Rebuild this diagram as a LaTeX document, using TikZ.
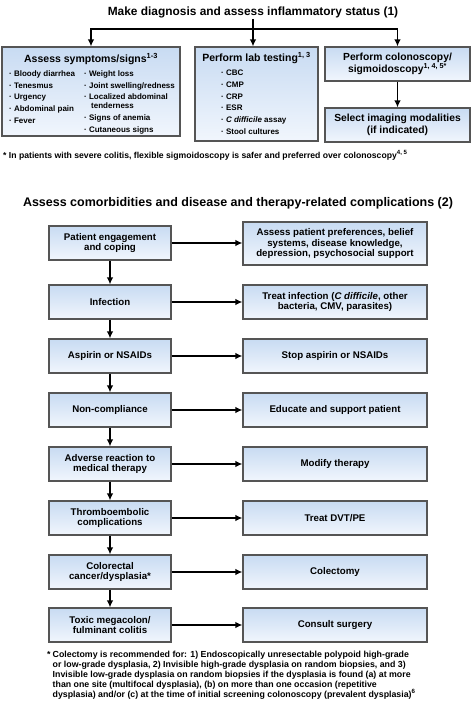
\documentclass[tikz,border=0pt]{standalone}
\usepackage{fontspec}
\setmainfont{Liberation Sans}
\usetikzlibrary{arrows.meta}
\definecolor{boxtop}{RGB}{200,219,242}
\definecolor{boxbot}{RGB}{241,246,253}
\definecolor{boxline}{RGB}{85,85,85}
\begin{document}
\begin{tikzpicture}[x=1pt,y=-1pt,
  box/.style={draw=boxline, line width=1.1pt, top color=boxtop, bottom color=boxbot, inner sep=0pt, align=center, font=\fontsize{9.7}{10.6}\selectfont\bfseries, anchor=center},
  lbox/.style={box, minimum width=122pt, minimum height=34pt},
  rbox/.style={box, minimum width=184pt, minimum height=34pt},
  arr/.style={line width=1.5pt, -{Latex[length=7pt,width=6.5pt]}},
  ln/.style={line width=1.5pt},
  item/.style={anchor=west, inner sep=0pt, font=\fontsize{8}{9}\selectfont\bfseries},
  ttl/.style={font=\fontsize{11.9}{13}\selectfont\bfseries, inner sep=1pt},
  btitle/.style={font=\fontsize{10.5}{12}\selectfont\bfseries, inner sep=0pt},
  note/.style={anchor=north west, inner sep=0pt, align=left, font=\fontsize{8.8}{10}\selectfont\bfseries},
]
\useasboundingbox (0,0) rectangle (474,704);

% ---------- Section 1 ----------
\node[ttl] (t1) at (253,12) {Make diagnosis and assess inflammatory status (1)};
\coordinate (J) at (253,29);

\node[box, minimum width=178pt, minimum height=89pt] (b1) at (91,91.5) {};
\node[box, minimum width=123pt, minimum height=94pt] (b2) at (256.5,94) {};
\node[box, minimum width=145pt, minimum height=34pt, font=\fontsize{10.3}{11.5}\selectfont\bfseries] (b3) at (397.5,64) {Perform colonoscopy/\\sigmoidoscopy\textsuperscript{1, 4, 5*}};
\node[box, minimum width=145pt, minimum height=34pt, font=\fontsize{10.3}{11.5}\selectfont\bfseries] (b4) at (397.5,125) {Select imaging modalities\\(if indicated)};

\draw[ln] (t1.south) -- (J);
\draw[arr] (J) -| (b1.north);
\draw[arr] (J) -| (b3.north);
\draw[arr] (J) -- (J |- b2.north);
\draw[arr] (b3) -- (b4);

\node[btitle] (b1t) at (91,59) {Assess symptoms/signs\textsuperscript{1-3}};
\node[item] (s1) at (9,74) {\textperiodcentered\ Bloody diarrhea};
\node[item] (s2) at (9,86) {\textperiodcentered\ Tenesmus};
\node[item] (s3) at (9,98) {\textperiodcentered\ Urgency};
\node[item] (s4) at (9,109) {\textperiodcentered\ Abdominal pain};
\node[item] (s5) at (9,121) {\textperiodcentered\ Fever};
\node[item] (s6) at (84,74) {\textperiodcentered\ Weight loss};
\node[item] (s7) at (84,86) {\textperiodcentered\ Joint swelling/redness};
\node[item] (s8) at (84,97) {\textperiodcentered\ Localized abdominal};
\node[item] (s9) at (91,106) {tenderness};
\node[item] (s10) at (84,118) {\textperiodcentered\ Signs of anemia};
\node[item] (s11) at (84,130) {\textperiodcentered\ Cutaneous signs};

\node[btitle] (b2t) at (256.5,58) {Perform lab testing\textsuperscript{1, 3}};
\node[item] (l1) at (221,73) {\textperiodcentered\ CBC};
\node[item] (l2) at (221,85) {\textperiodcentered\ CMP};
\node[item] (l3) at (221,97) {\textperiodcentered\ CRP};
\node[item] (l4) at (221,108) {\textperiodcentered\ ESR};
\node[item] (l5) at (221,120) {\textperiodcentered\ \textit{C difficile} assay};
\node[item] (l6) at (221,132) {\textperiodcentered\ Stool cultures};

\node[anchor=west, inner sep=0pt, font=\fontsize{8.65}{10}\selectfont\bfseries] (fn1) at (3,155) {* In patients with severe colitis, flexible sigmoidoscopy is safer and preferred over colonoscopy\textsuperscript{4, 5}};

% ---------- Section 2 ----------
\node[ttl, font=\fontsize{12.5}{14}\selectfont\bfseries] (t2) at (238,203) {Assess comorbidities and disease and therapy-related complications (2)};

\node[lbox] (L1) at (110,243) {Patient engagement\\and coping};
\node[rbox, minimum height=43pt] (R1) at (335,243.5) {Assess patient preferences, belief\\systems, disease knowledge,\\depression, psychosocial support};
\node[lbox] (L2) at (110,302) {Infection};
\node[rbox] (R2) at (335,302) {Treat infection (\textit{C difficile}, other\\bacteria, CMV, parasites)};
\node[lbox] (L3) at (110,356) {Aspirin or NSAIDs};
\node[rbox] (R3) at (335,356) {Stop aspirin or NSAIDs};
\node[lbox] (L4) at (110,410) {Non-compliance};
\node[rbox] (R4) at (335,410) {Educate and support patient};
\node[lbox] (L5) at (110,464) {Adverse reaction to\\medical therapy};
\node[rbox] (R5) at (335,464) {Modify therapy};
\node[lbox] (L6) at (110,518) {Thromboembolic\\complications};
\node[rbox] (R6) at (335,518) {Treat DVT/PE};
\node[lbox] (L7) at (110,572) {Colorectal\\cancer/dysplasia*};
\node[rbox] (R7) at (335,572) {Colectomy};
\node[lbox] (L8) at (110,625) {Toxic megacolon/\\fulminant colitis};
\node[rbox] (R8) at (335,625) {Consult surgery};

\foreach \i in {1,...,8} {\draw[arr] (L\i.east) -- (L\i.east -| R\i.west);}
\foreach \i/\j in {1/2,2/3,3/4,4/5,5/6,6/7,7/8} {\draw[arr] (L\i) -- (L\j);}

\node[note] (fn2) at (47,651) {\makebox[5.5pt][l]{*}Colectomy is recommended for: 1) Endoscopically unresectable polypoid high-grade\\
\hspace*{5.5pt}or low-grade dysplasia, 2) Invisible high-grade dysplasia on random biopsies, and 3)\\
\hspace*{5.5pt}Invisible low-grade dysplasia on random biopsies if the dysplasia is found (a) at more\\
\hspace*{5.5pt}than one site (multifocal dysplasia), (b) on more than one occasion (repetitive\\
\hspace*{5.5pt}dysplasia) and/or (c) at the time of initial screening colonoscopy (prevalent dysplasia)\textsuperscript{6}};
\end{tikzpicture}
\end{document}
